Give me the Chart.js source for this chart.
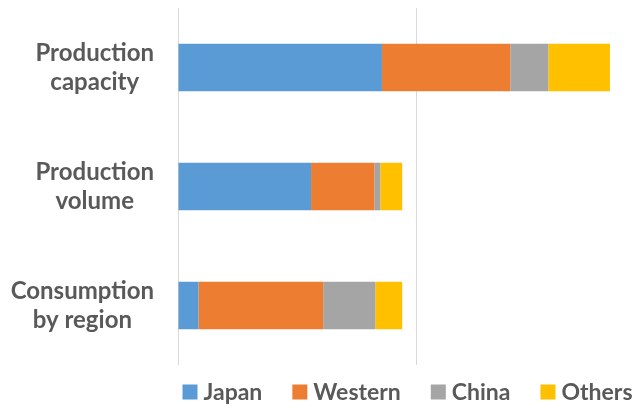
<!DOCTYPE html>
<html>
<head>
<meta charset="utf-8">
<script src="https://cdn.jsdelivr.net/npm/chart.js@4"></script>
<style>
  html, body { margin: 0; padding: 0; background: #fff; overflow: hidden; width: 643px; height: 408px; }
</style>
</head>
<body>
<canvas id="chart" width="654" height="408"></canvas>
<script>
// data (gridline step = 100)
const categories = [['Production', 'capacity'], ['Production', 'volume'], ['Consumption', 'by region']];
const seriesNames = ['Japan', 'Western', 'China', 'Others'];
const japan = [85.7, 55.9, 8.6];
const western = [53.9, 26.6, 52.4];
const china = [16.0, 2.5, 21.9];
const others = [25.9, 9.2, 11.3];
const xTicks = [0, 100, 200];

const colors = ['#5B9BD5', '#ED7D31', '#A5A5A5', '#FFC000'];
const textColor = '#595959';
const fontFamily = 'Lato, "Open Sans", sans-serif';

// y labels: each block right aligned, lines centred inside the block
const yLabels = {
    id: 'yLabels',
    afterDraw(chart) {
        const ctx = chart.ctx;
        const yScale = chart.scales.y;
        const right = chart.chartArea.left - 24;
        ctx.save();
        ctx.font = 'bold 24px ' + fontFamily;
        ctx.fillStyle = textColor;
        ctx.textAlign = 'center';
        ctx.textBaseline = 'middle';
        categories.forEach((lines, i) => {
            const w = Math.max(...lines.map(l => ctx.measureText(l).width));
            const cx = right - w / 2;
            const cy = yScale.getPixelForTick(i);
            const lh = 29;
            lines.forEach((line, j) => {
                ctx.fillText(line, cx, cy + (j - (lines.length - 1) / 2) * lh);
            });
        });
        ctx.restore();
    }
};

// legend at the bottom
const bottomLegend = {
    id: 'bottomLegend',
    afterDraw(chart) {
        const ctx = chart.ctx;
        const box = 15, gap = 6, spacing = 30;
        ctx.save();
        ctx.font = 'bold 23px ' + fontFamily;
        const items = chart.data.datasets.map(ds => ({
            text: ds.label,
            color: ds.backgroundColor,
            w: box + gap + ctx.measureText(ds.label).width
        }));
        const total = items.reduce((s, it) => s + it.w, 0) + spacing * (items.length - 1);
        let x = chart.chartArea.left + 229.5 - total / 2;
        const cy = 392;
        ctx.textBaseline = 'middle';
        ctx.textAlign = 'left';
        items.forEach(it => {
            ctx.fillStyle = it.color;
            ctx.fillRect(x, cy - box / 2, box, box);
            ctx.fillStyle = textColor;
            ctx.fillText(it.text, x + box + gap, cy + 1);
            x += it.w + spacing;
        });
        ctx.restore();
    }
};

const values = [japan, western, china, others];

new Chart(document.getElementById('chart'), {
    type: 'bar',
    data: {
        labels: categories,
        datasets: seriesNames.map((name, i) => ({
            label: name,
            data: values[i],
            backgroundColor: colors[i],
            borderWidth: 0,
            barPercentage: 0.4,
            categoryPercentage: 1
        }))
    },
    options: {
        indexAxis: 'y',
        responsive: false,
        animation: false,
        layout: { padding: { top: 8, bottom: 43, right: 0, left: 0 } },
        plugins: {
            legend: { display: false },
            tooltip: { enabled: false }
        },
        scales: {
            x: {
                stacked: true,
                min: xTicks[0],
                max: xTicks[2],
                ticks: { display: false, stepSize: xTicks[1] - xTicks[0] },
                grid: { color: '#D9D9D9', lineWidth: 1, drawTicks: false },
                border: { display: false }
            },
            y: {
                stacked: true,
                ticks: { display: false },
                grid: { display: false, drawTicks: false },
                border: { display: false },
                afterFit(scale) { scale.width = 178; }
            }
        }
    },
    plugins: [yLabels, bottomLegend]
});
</script>
</body>
</html>
